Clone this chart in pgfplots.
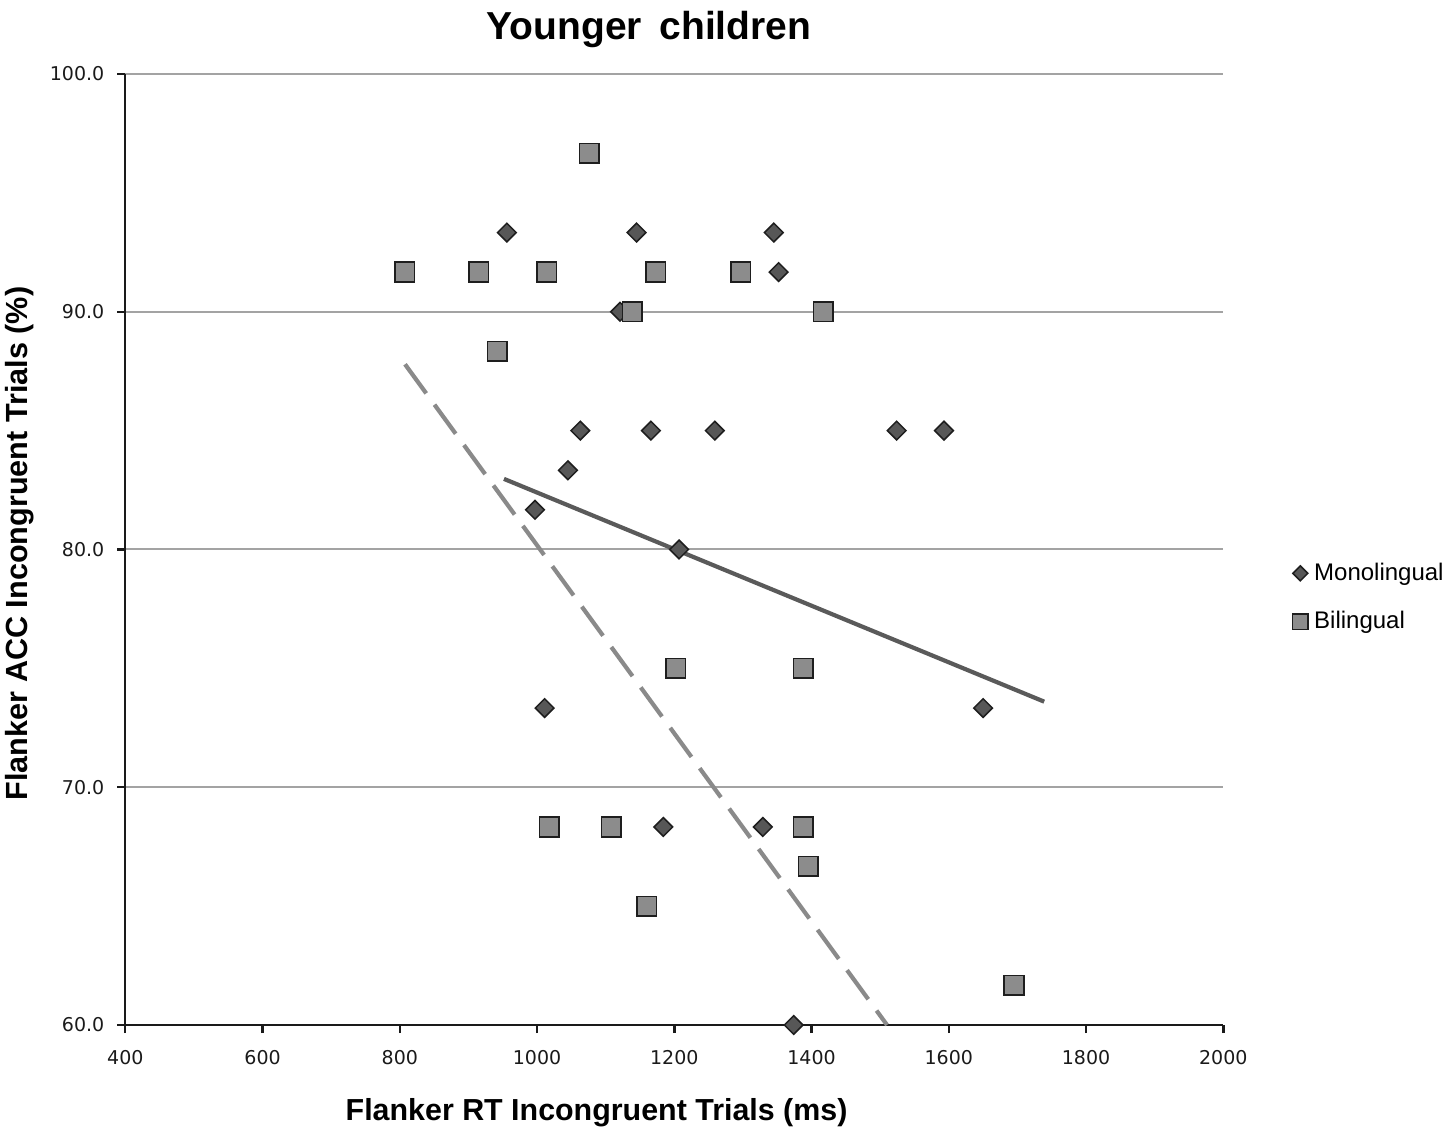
\documentclass[border=0pt]{standalone}
\usepackage{fontspec}
\setmainfont{Liberation Sans}
\newfontfamily\tickfont{DejaVu Sans}
\usepackage{pgfplots}
\pgfplotsset{compat=1.18}
\definecolor{monofill}{HTML}{575757}
\definecolor{bifill}{HTML}{8C8C8C}
\definecolor{markedge}{HTML}{1E1E1E}
\definecolor{monoline}{HTML}{5A5A5A}
\definecolor{biline}{HTML}{8A8A8A}
\definecolor{gridc}{HTML}{A3A3A3}
\definecolor{axisc}{HTML}{1A1A1A}
\definecolor{textc}{HTML}{1A1A1A}

\pgfplotstableread{
x y
956 93.33
1145 93.33
1345 93.33
1352 91.67
1121 90.00
1063 85.00
1166 85.00
1259 85.00
1524 85.00
1593 85.00
1045 83.33
997 81.67
1207 80.00
1011 73.33
1650 73.33
1184 68.33
1329 68.33
1374 60.00
}\mono

\pgfplotstableread{
x y
1076 96.67
807 91.67
915 91.67
1014 91.67
1173 91.67
1297 91.67
1139 90.00
1417 90.00
942 88.33
1202 75.00
1388 75.00
1018 68.33
1108 68.33
1388 68.33
1395 66.67
1160 65.00
1695 61.67
}\bi

\begin{document}
\begin{tikzpicture}
\path[use as bounding box] (-62.65bp,-53bp) rectangle (662.35bp,512.5bp);
\begin{axis}[
  at={(0,0)}, anchor=south west,
  width=549bp, height=475.5bp, scale only axis,
  xmin=400, xmax=2000, ymin=60, ymax=100,
  xtick={400,600,...,2000}, ytick={60,70,80,90,100},
  axis x line*=bottom, axis y line*=left,
  axis line style={line width=1.2bp, color=axisc},
  tick align=outside, major tick length=4bp,
  tick style={line width=1.2bp, color=axisc},
  ymajorgrids, grid style={line width=1bp, color=gridc},
  clip=false,
  /pgf/number format/assume math mode=true,
  ticklabel style={font=\tickfont\fontsize{9.5bp}{11bp}\selectfont, text=textc},
  xticklabel style={/pgf/number format/1000 sep={}, yshift=-5bp},
  yticklabel style={/pgf/number format/.cd, fixed, fixed zerofill, precision=1, /tikz/.cd, xshift=-3bp},
  title={Younger\hspace{0.45em}children},
  title style={at={(axis description cs:0.477,1.0242)}, anchor=base, inner sep=0pt,
    font=\bfseries\fontsize{19.5bp}{24bp}\selectfont},
  xlabel={Flanker RT Incongruent Trials (ms)},
  xlabel style={at={(axis description cs:0.4292,-0.0999)}, anchor=base, inner sep=0pt,
    font=\bfseries\fontsize{15.2bp}{18bp}\selectfont},
  ylabel={Flanker ACC Incongruent Trials (\%)},
  ylabel style={at={(axis description cs:-0.0895,0.5063)}, anchor=base, inner sep=0pt,
    font=\bfseries\fontsize{15.3bp}{18bp}\selectfont},
  legend style={at={(axis description cs:1.063,0.4495)}, anchor=west, draw=none, fill=none,
    inner sep=0pt, outer sep=0pt, font=\fontsize{12bp}{14bp}\selectfont,
    row sep=14bp, column sep=3bp, nodes={inner sep=0pt}},
  legend cell align=left,
  legend image code/.code={\draw[#1,/tikz/every mark/.append style={scale=0.8}] plot coordinates {(0bp,0bp)};},
]
\addplot[only marks, mark=square*, mark size=3.3bp,
  mark options={rotate=45, fill=monofill, draw=markedge, line width=0.75bp}]
  table[x=x, y=y] {\mono};
\addlegendentry{Monolingual}
\addplot[only marks, mark=square*, mark size=4.9bp,
  mark options={fill=bifill, draw=markedge, line width=0.8bp}]
  table[x=x, y=y] {\bi};
\addlegendentry{Bilingual}
\addplot[forget plot, color=monoline, line width=2.1bp] coordinates {(951.8,82.97) (1739,73.6)};
\addplot[forget plot, color=biline, line width=2.1bp, dash pattern=on 18bp off 7bp] coordinates {(807.6,87.79) (1510,60)};
\end{axis}
\end{tikzpicture}
\end{document}
